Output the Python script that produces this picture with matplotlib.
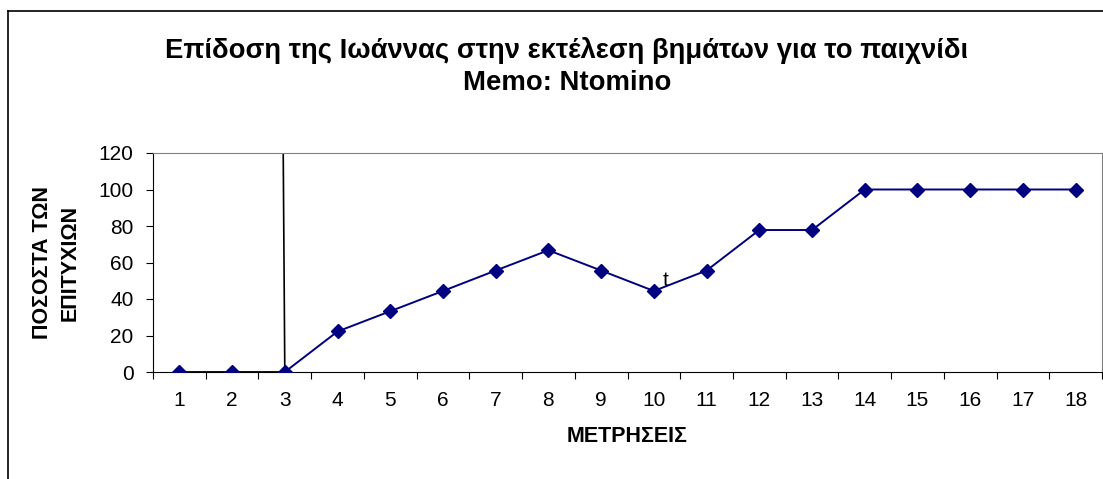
import numpy as np
import matplotlib
matplotlib.use("Agg")
import matplotlib.pyplot as plt
from matplotlib.lines import Line2D

plt.rcParams['font.family'] = ['Liberation Sans', 'DejaVu Sans']

metriseis = list(range(1, 19))
pososta = [0, 0, 0, 22.2, 33.3, 44.4, 55.6, 66.7, 55.6, 44.4,
           55.6, 77.8, 77.8, 100, 100, 100, 100, 100]
y_ticks = [0, 20, 40, 60, 80, 100, 120]

# stray vertical line and "t" label left in the original sheet
grammi_x = [2.97, 3.0]
grammi_y = [120, 0]
simeiosi_x, simeiosi_y = 10.22, 50

W, H = 1103, 479
fig = plt.figure(figsize=(W / 100, H / 100), dpi=100)
ax = fig.add_axes([153 / W, 1 - 372 / H, (1102 - 153) / W, (372 - 153) / H])

ax.plot(metriseis, pososta, color='#000080', lw=1.4, marker='D', ms=7,
        markerfacecolor='#000080', markeredgecolor='#000080', zorder=3)
ax.plot(grammi_x, grammi_y, color='black', lw=1.2, zorder=2)
ax.text(simeiosi_x, simeiosi_y, 't', fontsize=15, ha='center', va='center')

ax.set_xlim(0.5, 18.5)
ax.set_ylim(0, 120)
ax.set_yticks(y_ticks)
ax.set_xticks(np.arange(0.5, 19, 1))
ax.set_xticklabels([])
ax.set_xticks(metriseis, minor=True)
ax.set_xticklabels([str(m) for m in metriseis], minor=True)
ax.tick_params(axis='x', which='minor', length=0, pad=14, labelsize=15)
ax.tick_params(axis='x', which='major', length=5, direction='out', width=0.8)
ax.tick_params(axis='y', length=5, direction='out', width=0.8, labelsize=15, pad=9)

for s in ['top', 'right']:
    ax.spines[s].set_color('#808080')
for s in ['left', 'bottom']:
    ax.spines[s].set_color('black')

ax.set_xlabel('ΜΕΤΡΗΣΕΙΣ', fontsize=15.5, fontweight='bold', labelpad=11)
ax.set_ylabel('ΠΟΣΟΣΤΑ ΤΩΝ\nΕΠΙΤΥΧΙΩΝ', fontsize=15.5, fontweight='bold',
              labelpad=13, linespacing=1.38)

fig.text(567 / W, 1 - 66.5 / H, 'Επίδοση της Ιωάννας στην εκτέλεση βημάτων για το παιχνίδι\nMemo: Ntomino',
         ha='center', va='center', fontsize=19.8, fontweight='bold', linespacing=1.33)

# chart area border (only left and top visible)
fig.add_artist(Line2D([7.5 / W, 7.5 / W], [0, 1 - 10.5 / H], color='black', lw=1.2))
fig.add_artist(Line2D([7.5 / W, 1], [1 - 10.5 / H, 1 - 10.5 / H], color='black', lw=1.2))

fig.savefig('out.png', dpi=100, facecolor='white')
